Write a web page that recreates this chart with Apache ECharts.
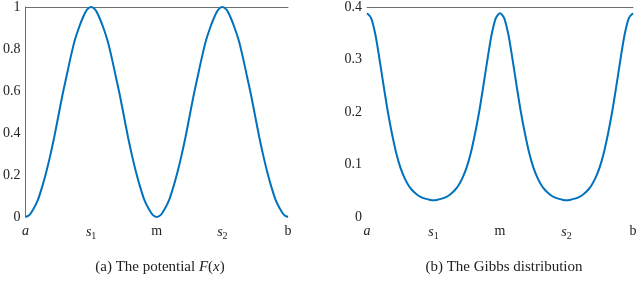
<!DOCTYPE html>
<html>
<head>
<meta charset="utf-8">
<script src="https://cdn.jsdelivr.net/npm/echarts@6/dist/echarts.min.js"></script>
<style>
html,body{margin:0;padding:0;background:#fff;}
#c{width:640px;height:295px;}
</style>
</head>
<body>
<div id="c"></div>
<script>
// sample positions along [a, b]: a=0, s1=16, m=32, s2=48, b=64
var xs = [0, 1, 2, 3, 4, 5, 6, 7, 8, 9, 10, 11, 12, 13, 14, 15, 16,
          17, 18, 19, 20, 21, 22, 23, 24, 25, 26, 27, 28, 29, 30, 31, 32,
          33, 34, 35, 36, 37, 38, 39, 40, 41, 42, 43, 44, 45, 46, 47, 48,
          49, 50, 51, 52, 53, 54, 55, 56, 57, 58, 59, 60, 61, 62, 63, 64];
// (a) potential F(x)
var potential = [0, 0.01, 0.04, 0.08, 0.14, 0.21, 0.29, 0.38, 0.48, 0.58, 0.67, 0.76, 0.84, 0.90, 0.95, 0.987, 1.0,
                 0.987, 0.95, 0.90, 0.84, 0.76, 0.67, 0.58, 0.48, 0.38, 0.29, 0.21, 0.14, 0.08, 0.04, 0.01, 0,
                 0.01, 0.04, 0.08, 0.14, 0.21, 0.29, 0.38, 0.48, 0.58, 0.67, 0.76, 0.84, 0.90, 0.95, 0.987, 1.0,
                 0.987, 0.95, 0.90, 0.84, 0.76, 0.67, 0.58, 0.48, 0.38, 0.29, 0.21, 0.14, 0.08, 0.04, 0.01, 0];
// (b) Gibbs distribution
var gibbs = [0.388, 0.379, 0.348, 0.301, 0.250, 0.201, 0.159, 0.123, 0.095, 0.075, 0.060, 0.050, 0.043, 0.038, 0.035, 0.033, 0.032,
             0.033, 0.035, 0.038, 0.043, 0.050, 0.060, 0.075, 0.095, 0.123, 0.159, 0.201, 0.250, 0.301, 0.348, 0.379, 0.388,
             0.379, 0.348, 0.301, 0.250, 0.201, 0.159, 0.123, 0.095, 0.075, 0.060, 0.050, 0.043, 0.038, 0.035, 0.033, 0.032,
             0.033, 0.035, 0.038, 0.043, 0.050, 0.060, 0.075, 0.095, 0.123, 0.159, 0.201, 0.250, 0.301, 0.348, 0.379, 0.388];
var xTickPos = [0, 16, 32, 48, 64];
var xTickLabels = ['{it|a}', '{it|s}{sub|1}', '{rm|m}', '{it|s}{sub|2}', '{rm|b}'];
var captions = ['{rm|(a) The potential }{it|F}{rm|(}{it|x}{rm|)}', '{rm|(b) The Gibbs distribution}'];

var serif = 'Liberation Serif';
var rich = {
  it: {fontFamily: serif, fontStyle: 'italic', fontSize: 14, color: '#222'},
  rm: {fontFamily: serif, fontSize: 14, color: '#222'},
  sub: {fontFamily: serif, fontSize: 10, color: '#222', verticalAlign: 'bottom', padding: [7, 0, 0, 0]}
};
var capRich = {
  it: {fontFamily: serif, fontStyle: 'italic', fontWeight: 'normal', fontSize: 15, color: '#222'},
  rm: {fontFamily: serif, fontWeight: 'normal', fontSize: 15, color: '#222'}
};
function xFmt(v) {
  for (var i = 0; i < xTickPos.length; i++) if (Math.abs(v - xTickPos[i]) < 1e-6) return xTickLabels[i];
  return '';
}
function pairs(ys) { return xs.map(function (x, i) { return [x, ys[i]]; }); }

var grids = [
  {left: 22, top: 7, width: 266, height: 210},
  {left: 367, top: 7, width: 266, height: 210}
];
var lineCol = '#6e6e6e';
var xAxes = [], yAxes = [];
[0, 1].forEach(function (g) {
  xAxes.push({
    type: 'value', gridIndex: g, min: 0, max: 64, interval: 16, position: 'bottom',
    axisLine: {show: false}, axisTick: {show: false}, splitLine: {show: false},
    axisLabel: {formatter: xFmt, rich: rich, margin: 7}
  });
  xAxes.push({
    type: 'value', gridIndex: g, min: 0, max: 64, position: 'top',
    axisLine: {show: true, lineStyle: {color: lineCol, width: 1}},
    axisTick: {show: false}, axisLabel: {show: false}, splitLine: {show: false}
  });
});
yAxes.push({
  type: 'value', gridIndex: 0, min: 0, max: 1, interval: 0.2,
  axisLine: {show: true, lineStyle: {color: lineCol, width: 1}},
  axisTick: {show: false}, splitLine: {show: false},
  axisLabel: {fontFamily: serif, fontSize: 14, color: '#222', margin: 5}
});
yAxes.push({
  type: 'value', gridIndex: 1, min: 0, max: 0.4, interval: 0.1,
  axisLine: {show: false}, axisTick: {show: false}, splitLine: {show: false},
  axisLabel: {fontFamily: serif, fontSize: 14, color: '#222', margin: 5}
});

var chart = echarts.init(document.getElementById('c'), null, {renderer: 'canvas'});
chart.setOption({
  animation: false,
  backgroundColor: '#fff',
  title: [
    {text: captions[0], left: 155, top: 255, textAlign: 'center', textStyle: {fontWeight: 'normal', rich: capRich}},
    {text: captions[1], left: 499, top: 255, textAlign: 'center', textStyle: {fontWeight: 'normal', rich: capRich}}
  ],
  grid: grids,
  xAxis: xAxes,
  yAxis: yAxes,
  series: [
    {type: 'line', xAxisIndex: 0, yAxisIndex: 0, data: pairs(potential), smooth: 0.3,
     showSymbol: false, lineStyle: {color: '#0072BD', width: 2}},
    {type: 'line', xAxisIndex: 2, yAxisIndex: 1, data: pairs(gibbs), smooth: 0.3,
     showSymbol: false, lineStyle: {color: '#0072BD', width: 2}}
  ]
});
</script>
</body>
</html>
